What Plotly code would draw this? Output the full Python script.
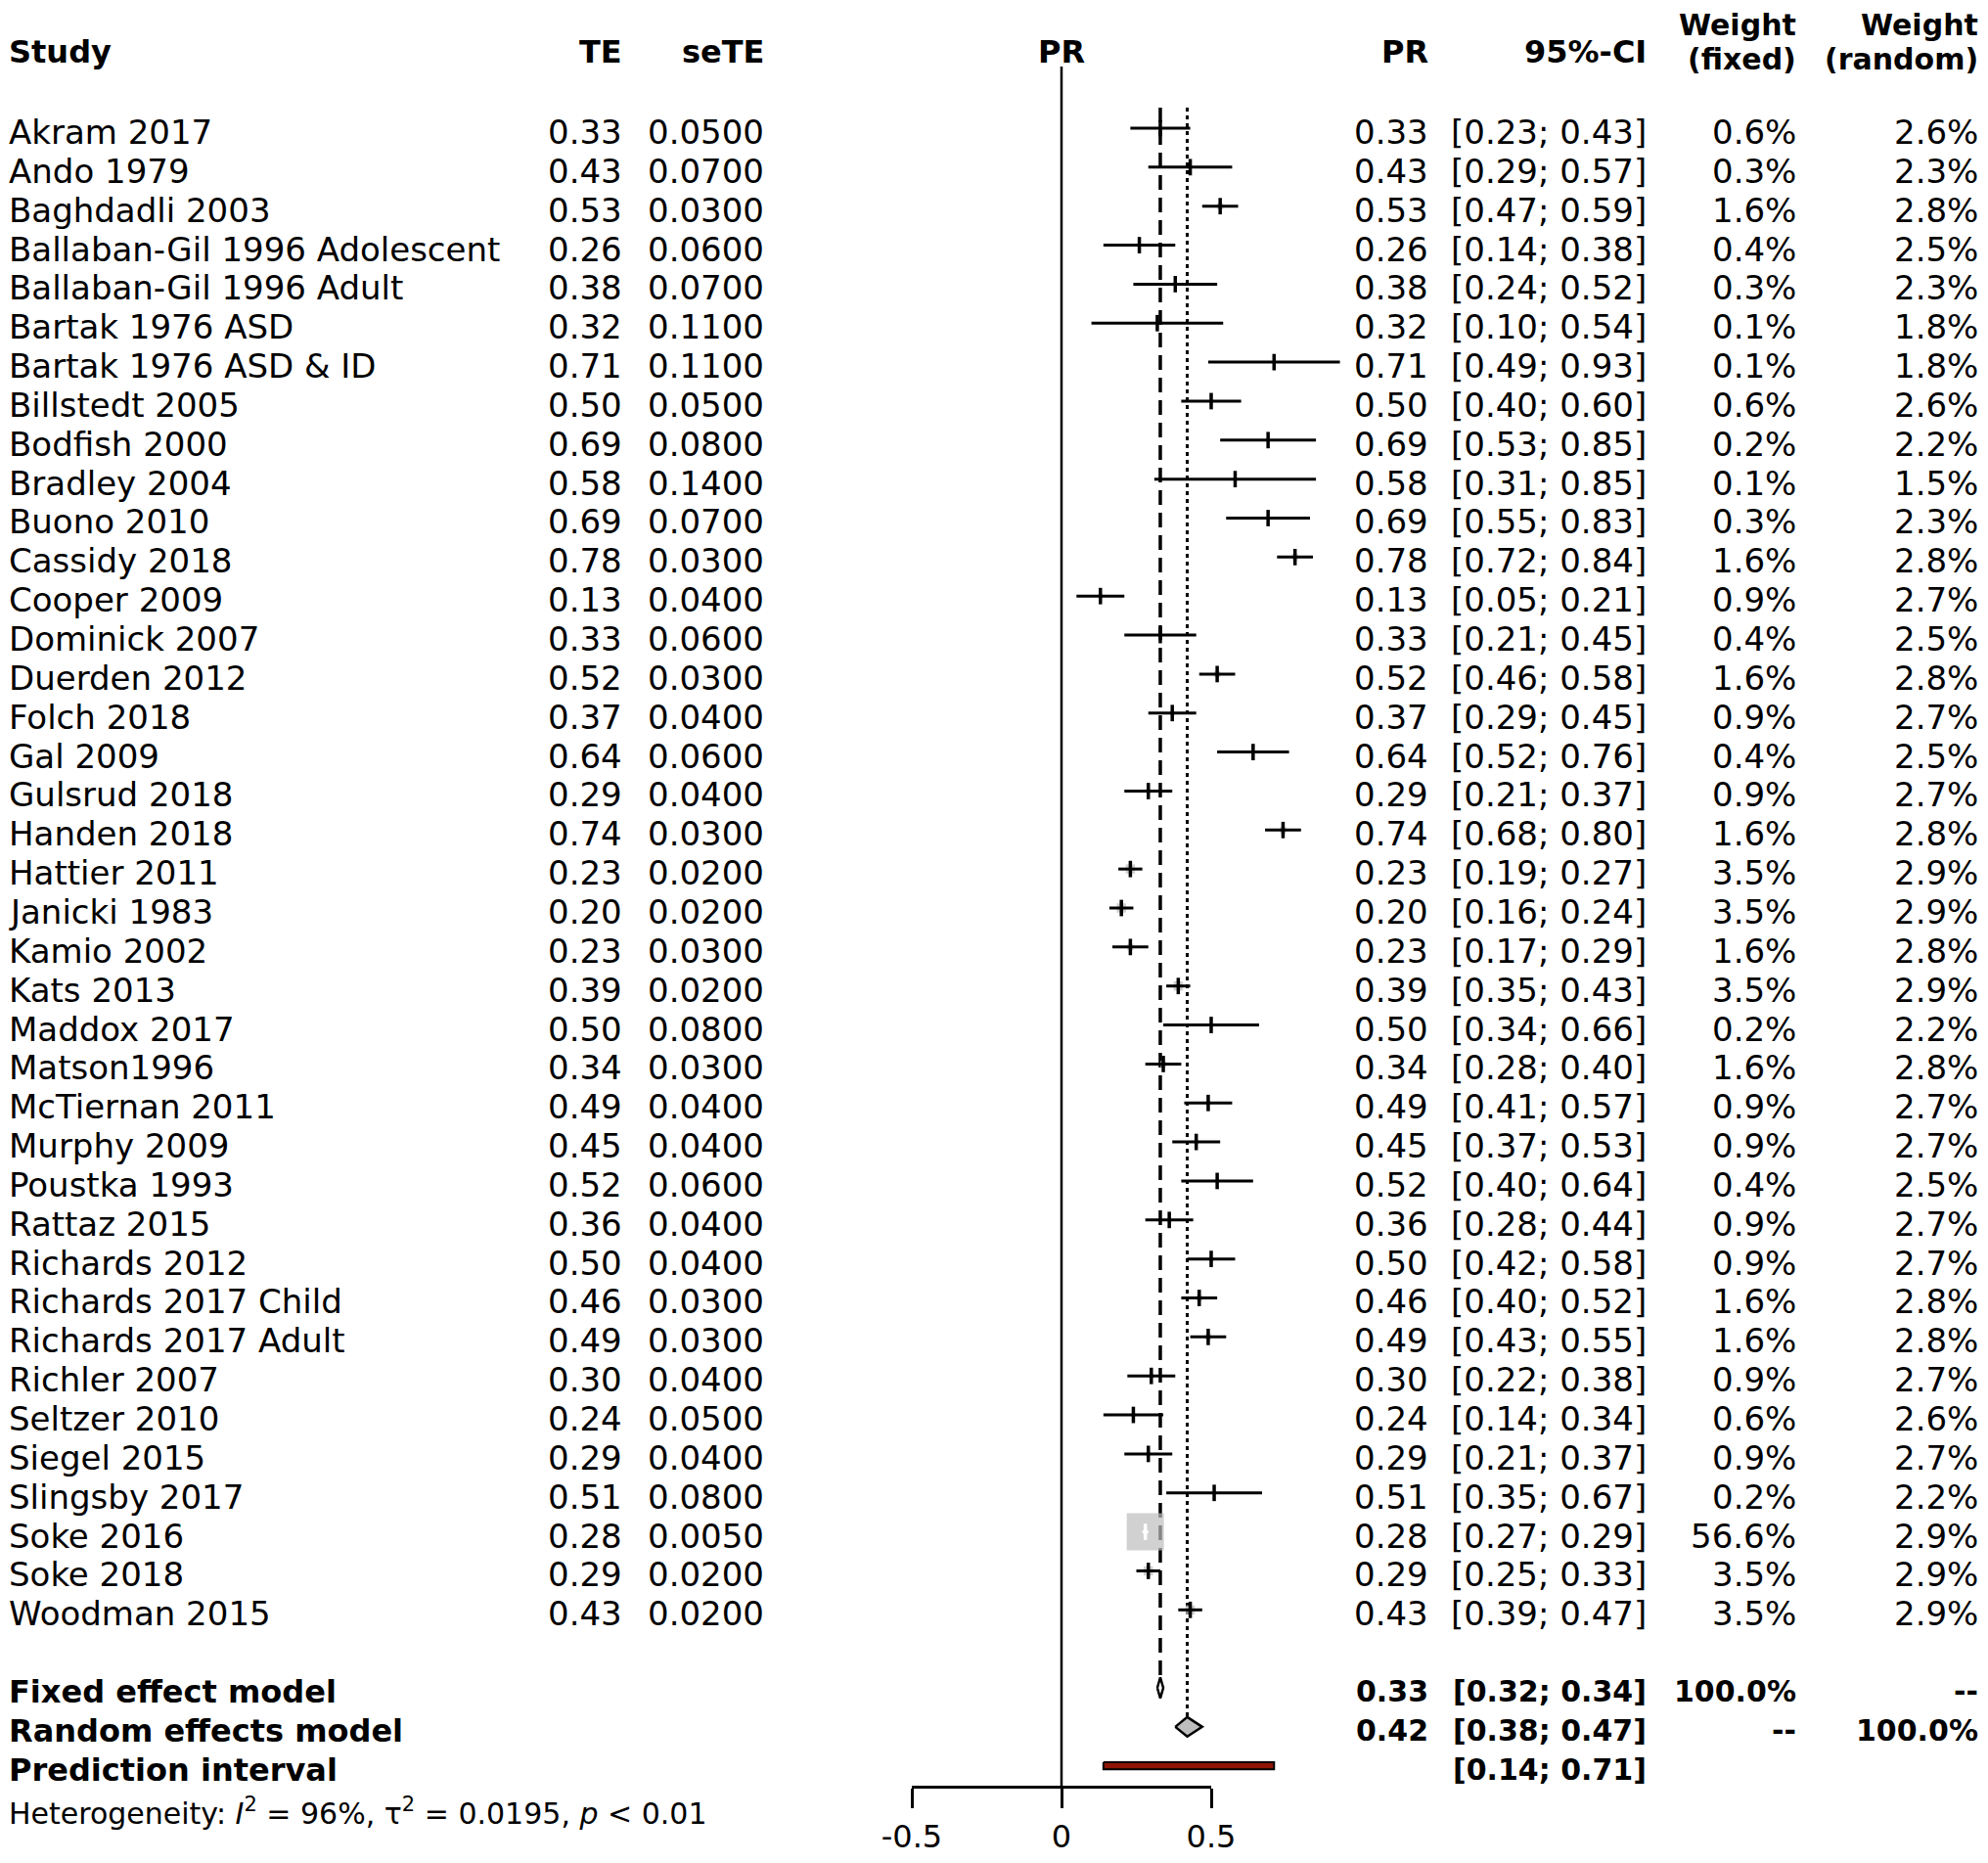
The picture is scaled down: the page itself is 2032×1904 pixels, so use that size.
#!/usr/bin/env python3
"""
Forest plot: доля (PR) по исследованиям, модели с фиксированными и случайными эффектами.
"""

import math
import plotly.graph_objects as go

# --- данные исследований ---
studies = [
    "Akram 2017", "Ando 1979", "Baghdadli 2003", "Ballaban-Gil 1996 Adolescent",
    "Ballaban-Gil 1996 Adult", "Bartak 1976 ASD", "Bartak 1976 ASD & ID", "Billstedt 2005",
    "Bodfish 2000", "Bradley 2004", "Buono 2010", "Cassidy 2018", "Cooper 2009",
    "Dominick 2007", "Duerden 2012", "Folch 2018", "Gal 2009", "Gulsrud 2018",
    "Handen 2018", "Hattier 2011", "Janicki 1983", "Kamio 2002", "Kats 2013",
    "Maddox 2017", "Matson1996", "McTiernan 2011", "Murphy 2009", "Poustka 1993",
    "Rattaz 2015", "Richards 2012", "Richards 2017 Child", "Richards 2017 Adult",
    "Richler 2007", "Seltzer 2010", "Siegel 2015", "Slingsby 2017", "Soke 2016",
    "Soke 2018", "Woodman 2015",
]
te = [0.33, 0.43, 0.53, 0.26, 0.38, 0.32, 0.71, 0.50, 0.69, 0.58, 0.69, 0.78, 0.13,
      0.33, 0.52, 0.37, 0.64, 0.29, 0.74, 0.23, 0.20, 0.23, 0.39, 0.50, 0.34, 0.49,
      0.45, 0.52, 0.36, 0.50, 0.46, 0.49, 0.30, 0.24, 0.29, 0.51, 0.28, 0.29, 0.43]
se_te = [0.05, 0.07, 0.03, 0.06, 0.07, 0.11, 0.11, 0.05, 0.08, 0.14, 0.07, 0.03, 0.04,
         0.06, 0.03, 0.04, 0.06, 0.04, 0.03, 0.02, 0.02, 0.03, 0.02, 0.08, 0.03, 0.04,
         0.04, 0.06, 0.04, 0.04, 0.03, 0.03, 0.04, 0.05, 0.04, 0.08, 0.005, 0.02, 0.02]
ci_low = [0.23, 0.29, 0.47, 0.14, 0.24, 0.10, 0.49, 0.40, 0.53, 0.31, 0.55, 0.72, 0.05,
          0.21, 0.46, 0.29, 0.52, 0.21, 0.68, 0.19, 0.16, 0.17, 0.35, 0.34, 0.28, 0.41,
          0.37, 0.40, 0.28, 0.42, 0.40, 0.43, 0.22, 0.14, 0.21, 0.35, 0.27, 0.25, 0.39]
ci_high = [0.43, 0.57, 0.59, 0.38, 0.52, 0.54, 0.93, 0.60, 0.85, 0.85, 0.83, 0.84, 0.21,
           0.45, 0.58, 0.45, 0.76, 0.37, 0.80, 0.27, 0.24, 0.29, 0.43, 0.66, 0.40, 0.57,
           0.53, 0.64, 0.44, 0.58, 0.52, 0.55, 0.38, 0.34, 0.37, 0.67, 0.29, 0.33, 0.47]
w_fixed = [0.6, 0.3, 1.6, 0.4, 0.3, 0.1, 0.1, 0.6, 0.2, 0.1, 0.3, 1.6, 0.9, 0.4, 1.6,
           0.9, 0.4, 0.9, 1.6, 3.5, 3.5, 1.6, 3.5, 0.2, 1.6, 0.9, 0.9, 0.4, 0.9, 0.9,
           1.6, 1.6, 0.9, 0.6, 0.9, 0.2, 56.6, 3.5, 3.5]
w_random = [2.6, 2.3, 2.8, 2.5, 2.3, 1.8, 1.8, 2.6, 2.2, 1.5, 2.3, 2.8, 2.7, 2.5, 2.8,
            2.7, 2.5, 2.7, 2.8, 2.9, 2.9, 2.8, 2.9, 2.2, 2.8, 2.7, 2.7, 2.5, 2.7, 2.7,
            2.8, 2.8, 2.7, 2.6, 2.7, 2.2, 2.9, 2.9, 2.9]

# --- итоговые оценки ---
fixed_est, fixed_low, fixed_high = 0.33, 0.32, 0.34
random_est, random_low, random_high = 0.42, 0.38, 0.47
pred_low, pred_high = 0.14, 0.71
heterogeneity = ("Heterogeneity: <i>I</i><sup>2</sup> = 96%, "
                 "τ<sup>2</sup> = 0.0195, <i>p</i> < 0.01")

axis_ticks = [-0.5, 0, 0.5]
axis_ticktext = ["-0.5", "0", "0.5"]

# --- геометрия страницы (пиксели окна браузера) ---
PAGE_W, PAGE_H = 2032, 1904
BODY_MARGIN = 8                     # отступ body в браузере
W, H = PAGE_W - 2 * BODY_MARGIN, PAGE_H - 2 * BODY_MARGIN
X0_PX, PX_PER_UNIT = 1085, 306      # положение нуля и масштаб шкалы PR
ROW0_PX, ROW_PX = 131, 39.85        # первая строка и шаг строк
TEXT_DY = 0.1                       # текст строк чуть ниже линий
LEFT_PX = 9
FONT = "DejaVu Sans"
FS, FS_HEAD, FS_BOLD, FS_SMALL, FS_TICK, FS_WEIGHT = 34, 32, 30, 30, 32, 30
GRAY = "#bebebe"


def paper_x(px):
    return (px - BODY_MARGIN) / W


def paper_y(px):
    return 1 - (px - BODY_MARGIN) / H


def add_text(fig, text, px, row, anchor="right", bold=False, size=None):
    fig.add_annotation(
        x=paper_x(px), xref="paper", y=row, yref="y",
        text=f"<b>{text}</b>" if bold else text,
        showarrow=False, xanchor=anchor, yanchor="middle",
        borderpad=0, borderwidth=0,
        font=dict(family=FONT, size=size or (FS_BOLD if bold else FS), color="black"),
    )


def build_figure():
    n = len(studies)
    rows = list(range(n))
    row_fixed, row_random, row_pred = n + 1, n + 2, n + 3
    row_axis = row_pred + 0.51
    row_het = row_pred + 1.18
    row_head, row_head_w1, row_head_w2 = -1.96, -2.64, -1.77

    fig = go.Figure()

    # линия нуля
    fig.add_trace(go.Scatter(x=[0, 0], y=[-1.58, row_axis], mode="lines",
                             line=dict(color="black", width=2.5), hoverinfo="skip"))
    # линии итоговых оценок
    fig.add_trace(go.Scatter(x=[fixed_est, fixed_est], y=[-0.53, row_fixed - 0.3], mode="lines",
                             line=dict(color="black", width=3.5, dash="15px,8px"), hoverinfo="skip"))
    fig.add_trace(go.Scatter(x=[random_est, random_est], y=[-0.53, row_random - 0.25], mode="lines",
                             line=dict(color="black", width=3, dash="4px,4px"), hoverinfo="skip"))

    # квадраты (площадь ~ вес fixed)
    w_max = max(w_fixed)
    sizes = [38 * math.sqrt(w / w_max) for w in w_fixed]
    fig.add_trace(go.Scatter(x=te, y=rows, mode="markers",
                             marker=dict(symbol="square", size=sizes, color=GRAY, line=dict(width=0)),
                             hoverinfo="skip"))

    # доверительные интервалы: белые, если целиком внутри квадрата
    black_x, black_y, white_x, white_y = [], [], [], []
    tick_black, tick_white = [], []
    for i in rows:
        inside = (ci_high[i] - ci_low[i]) * PX_PER_UNIT < sizes[i]
        xs, ys = (white_x, white_y) if inside else (black_x, black_y)
        xs.extend([ci_low[i], ci_high[i], None])
        ys.extend([i, i, None])
        (tick_white if inside else tick_black).append(i)
    fig.add_trace(go.Scatter(x=black_x, y=black_y, mode="lines",
                             line=dict(color="black", width=3), hoverinfo="skip"))
    fig.add_trace(go.Scatter(x=white_x, y=white_y, mode="lines",
                             line=dict(color="white", width=3), hoverinfo="skip"))
    fig.add_trace(go.Scatter(x=[te[i] for i in tick_black], y=tick_black, mode="markers",
                             marker=dict(symbol="line-ns", size=12, line=dict(color="black", width=3.5)),
                             hoverinfo="skip"))
    fig.add_trace(go.Scatter(x=[te[i] for i in tick_white], y=tick_white, mode="markers",
                             marker=dict(symbol="line-ns", size=12, line=dict(color="white", width=3.5)),
                             hoverinfo="skip"))

    # ромбы
    for est, lo, hi, row, h, fill in [
        (fixed_est, fixed_low, fixed_high, row_fixed, 0.27, "white"),
        (random_est, random_low, random_high, row_random, 0.25, GRAY),
    ]:
        fig.add_trace(go.Scatter(x=[lo, est, hi, est, lo], y=[row, row - h, row, row + h, row],
                                 mode="lines", fill="toself", fillcolor=fill,
                                 line=dict(color="black", width=2.5), hoverinfo="skip"))

    # интервал предсказания
    fig.add_trace(go.Scatter(x=[pred_low, pred_high, pred_high, pred_low, pred_low],
                             y=[row_pred - 0.09, row_pred - 0.09, row_pred + 0.09, row_pred + 0.09, row_pred - 0.09],
                             mode="lines", fill="toself", fillcolor="#8e1506",
                             line=dict(color="black", width=2), hoverinfo="skip"))

    # ось PR (отдельная подсистема координат только для шкалы)
    fig.add_trace(go.Scatter(x=axis_ticks, y=[0] * len(axis_ticks), xaxis="x2", yaxis="y2",
                             mode="markers", marker=dict(opacity=0), hoverinfo="skip"))

    # заголовки
    add_text(fig, "<b>Study</b>", LEFT_PX, row_head, anchor="left", size=FS_HEAD)
    add_text(fig, "<b>TE</b>", 636, row_head, size=FS_HEAD)
    add_text(fig, "<b>seTE</b>", 781, row_head, size=FS_HEAD)
    add_text(fig, "<b>PR</b>", X0_PX, row_head, anchor="center", size=FS_HEAD)
    add_text(fig, "<b>PR</b>", 1460, row_head, size=FS_HEAD)
    add_text(fig, "<b>95%-CI</b>", 1683, row_head, size=FS_HEAD)
    add_text(fig, "<b>Weight</b>", 1836, row_head_w1, size=FS_WEIGHT)
    add_text(fig, "<b>(fixed)</b>", 1836, row_head_w2, size=FS_WEIGHT)
    add_text(fig, "<b>Weight</b>", 2022, row_head_w1, size=FS_WEIGHT)
    add_text(fig, "<b>(random)</b>", 2022, row_head_w2, size=FS_WEIGHT)

    # строки исследований
    for i in rows:
        r = i + TEXT_DY
        add_text(fig, studies[i], LEFT_PX, r, anchor="left")
        add_text(fig, f"{te[i]:.2f}", 636, r)
        add_text(fig, f"{se_te[i]:.4f}", 781, r)
        add_text(fig, f"{te[i]:.2f}", 1460, r)
        add_text(fig, f"[{ci_low[i]:.2f}; {ci_high[i]:.2f}]", 1683, r)
        add_text(fig, f"{w_fixed[i]:.1f}%", 1836, r)
        add_text(fig, f"{w_random[i]:.1f}%", 2022, r)

    # итоговые строки
    r = row_fixed + TEXT_DY
    add_text(fig, "<b>Fixed effect model</b>", LEFT_PX, r, anchor="left", size=FS_HEAD)
    add_text(fig, f"{fixed_est:.2f}", 1460, r, bold=True)
    add_text(fig, f"[{fixed_low:.2f}; {fixed_high:.2f}]", 1683, r, bold=True)
    add_text(fig, "100.0%", 1836, r, bold=True)
    add_text(fig, "--", 2022, r, bold=True)

    r = row_random + TEXT_DY
    add_text(fig, "<b>Random effects model</b>", LEFT_PX, r, anchor="left", size=FS_HEAD)
    add_text(fig, f"{random_est:.2f}", 1460, r, bold=True)
    add_text(fig, f"[{random_low:.2f}; {random_high:.2f}]", 1683, r, bold=True)
    add_text(fig, "--", 1836, r, bold=True)
    add_text(fig, "100.0%", 2022, r, bold=True)

    r = row_pred + TEXT_DY
    add_text(fig, "<b>Prediction interval</b>", LEFT_PX, r, anchor="left", size=FS_HEAD)
    add_text(fig, f"[{pred_low:.2f}; {pred_high:.2f}]", 1683, r, bold=True)

    add_text(fig, heterogeneity, LEFT_PX, row_het, anchor="left", size=FS_SMALL)

    axis_y = paper_y(ROW0_PX + ROW_PX * row_axis)
    fig.update_layout(
        width=W, height=H,
        margin=dict(l=0, r=0, t=0, b=0, autoexpand=False),
        paper_bgcolor="white", plot_bgcolor="rgba(0,0,0,0)",
        showlegend=False,
        xaxis=dict(domain=[0, 1],
                   range=[(BODY_MARGIN - X0_PX) / PX_PER_UNIT, (BODY_MARGIN + W - X0_PX) / PX_PER_UNIT],
                   visible=False, automargin=False),
        yaxis=dict(domain=[0, 1],
                   range=[(BODY_MARGIN + H - ROW0_PX) / ROW_PX, (BODY_MARGIN - ROW0_PX) / ROW_PX],
                   visible=False, automargin=False),
        xaxis2=dict(domain=[paper_x(X0_PX - PX_PER_UNIT / 2), paper_x(X0_PX + PX_PER_UNIT / 2)],
                    range=[axis_ticks[0], axis_ticks[-1]], anchor="y2", automargin=False,
                    showline=True, linecolor="black", linewidth=2.5,
                    ticks="outside", ticklen=20, tickwidth=2.5, tickcolor="black",
                    tickvals=axis_ticks, ticktext=axis_ticktext,
                    tickfont=dict(family=FONT, size=FS_TICK, color="black"),
                    ticklabelstandoff=2, showgrid=False, zeroline=False),
        yaxis2=dict(domain=[axis_y, axis_y + 0.002], anchor="x2", visible=False,
                    range=[0, 1], automargin=False),
    )
    return fig


if __name__ == "__main__":
    fig = build_figure()
    fig.write_html("out.html")
    print("✓ Сохранено в out.html")
